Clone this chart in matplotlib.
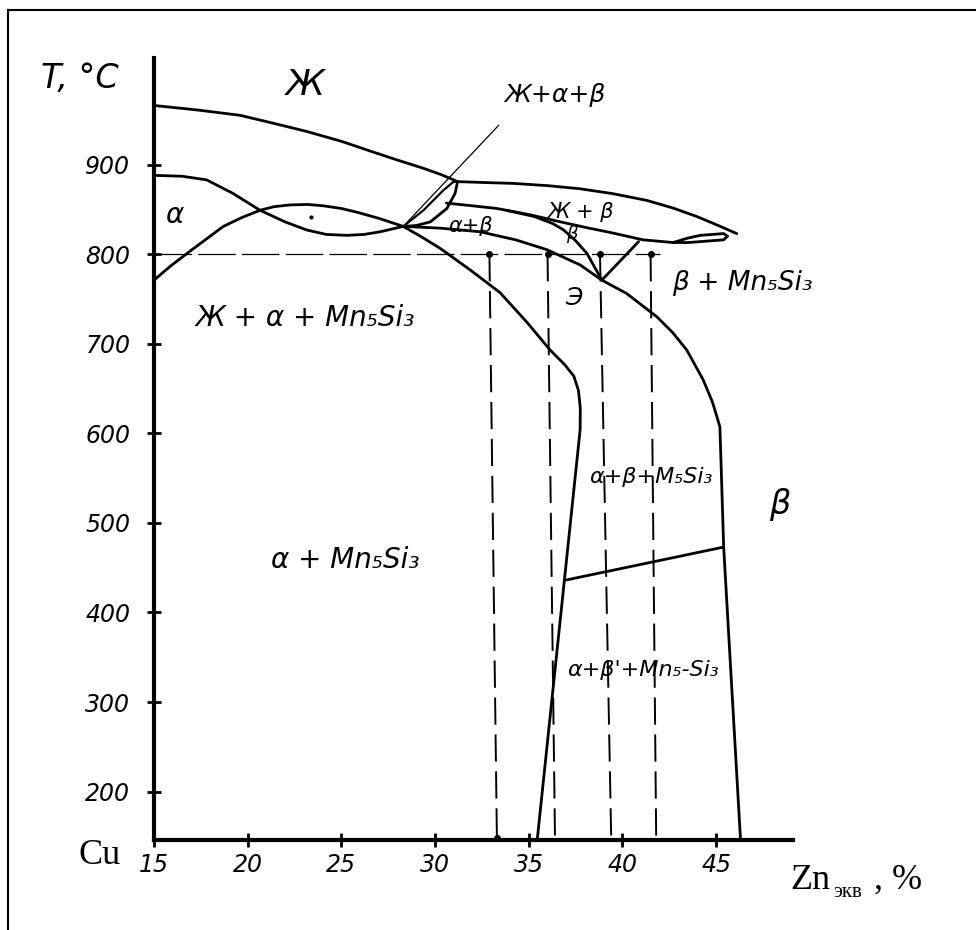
import numpy as np
import matplotlib.pyplot as plt

# phase boundary curves: (Zn_eq %, T degC)
liquidus = [(15, 966), (17.3, 961), (19.6, 955), (21.4, 946), (23.15, 937), (25, 926),
            (26.7, 914), (28, 905), (29.36, 896), (30.3, 889), (31.1, 882)]
liquidus_beta = [(31.16, 881), (32.6, 880), (34.18, 879), (36, 876.5), (37.74, 873),
                 (39.5, 867.5), (41.3, 860), (42.7, 851.5), (43.97, 842), (45, 833), (46.1, 823)]
alpha_top = [(15, 888), (16.5, 887), (17.8, 883), (19.2, 868), (20.66, 849), (22, 836),
             (23.15, 827), (24.2, 822), (25.3, 821), (26.2, 822), (27.07, 825), (28.3, 831)]
hump = [(15, 771), (15.9, 787), (16.9, 803), (17.8, 817), (18.7, 831), (19.7, 841),
        (20.66, 849), (21.4, 853), (22.26, 855), (23.2, 855.5), (24.04, 854), (25, 851),
        (25.8, 847), (27, 840), (28.3, 831), (29.3, 819), (30.27, 806.5), (31.9, 782),
        (33.47, 757), (34.9, 724), (36.14, 693), (36.9, 677), (37.4, 664), (37.65, 648),
        (37.75, 628), (37.74, 604), (35.45, 146)]
beta_left = [(28.3, 831), (30.3, 829), (32.4, 825), (34.3, 816), (35.97, 805), (37.74, 788),
             (38.9, 771), (40.23, 756), (41.84, 730), (42.7, 712), (43.43, 693), (44.3, 660),
             (44.8, 635), (45.04, 618.5), (45.2, 607), (45.4, 473), (46.3, 146)]
lens_left = [(28.3, 831), (29.38, 849), (30.45, 871.5), (30.98, 880.8), (31.16, 881)]
lens_right = [(28.3, 831), (29.0, 832), (29.74, 836), (30.63, 851), (31.07, 868), (31.2, 881)]
ab_upper = [(30.6, 857), (32, 854), (33.3, 851), (35.07, 844), (36.7, 836), (38, 830),
            (39.4, 824), (41.1, 816), (42.7, 813)]
ab_beta = [(33.8, 849), (35.3, 842), (36.3, 834), (36.86, 827), (37.5, 815), (38.1, 801),
           (38.5, 786), (38.9, 771)]
e_line = [(38.9, 771), (40.86, 814)]
lens2_top = [(42.7, 813), (43.5, 818), (44.15, 821), (45.4, 823), (45.6, 820)]
lens2_bot = [(42.7, 813), (43.5, 813), (44.15, 814), (45.4, 816), (45.6, 820)]
transform_line = [(36.94, 436), (45.4, 473)]
pointer = [(28.3, 831), (33.4, 944)]

iso_T = 800
iso_x = [15, 42.0]
verticals_top = [32.9, 36.0, 38.8, 41.5]
verticals_bot = [33.3, 36.4, 39.4, 41.8]

x_ticks = [15, 20, 25, 30, 35, 40, 45]
y_ticks = [200, 300, 400, 500, 600, 700, 800, 900]

labels = [
    ('Ж', 23.05, 989, 26),
    ('Ж+α+β', 36.4, 978, 18),
    ('α', 16.1, 844, 20),
    ('α+β', 31.9, 832, 15),
    ('Ж + β', 37.74, 847, 15),
    ('β', 37.3, 823, 13),
    ('Э', 37.4, 751, 18),
    ('β + Mn₅Si₃', 46.4, 768, 19),
    ('Ж + α + Mn₅Si₃', 23.06, 729, 20),
    ('α+β+M₅Si₃', 41.5, 551, 16),
    ('β', 48.4, 520, 24),
    ('α + Mn₅Si₃', 25.2, 459, 20),
    ("α+β'+Mn₅-Si₃", 41.1, 336, 16),
]

fig = plt.figure(figsize=(9.76, 9.30), dpi=100)
ax = fig.add_axes([154 / 976, 1 - 840 / 930, (793 - 154) / 976, (840 - 58) / 930])
ax.set_xlim(15, 49.1)
ax.set_ylim(146, 1019)

def draw(pts, lw=2.0, **kw):
    a = np.array(pts)
    ax.plot(a[:, 0], a[:, 1], color='black', lw=lw, solid_capstyle='round',
            solid_joinstyle='round', **kw)

for curve in [liquidus, liquidus_beta, alpha_top, hump, beta_left, lens_right,
              ab_upper, ab_beta, e_line, lens2_top, lens2_bot, transform_line]:
    draw(curve)
draw(lens_left, lw=1.6)
draw(pointer, lw=0.9)

ax.plot(iso_x, [iso_T, iso_T], color='black', lw=0.9, dashes=(30, 5))
for xt, xb in zip(verticals_top, verticals_bot):
    ax.plot([xt, xb], [iso_T, 146], color='black', lw=1.4, dashes=(14, 5))
    ax.plot([xt], [iso_T], 'o', color='black', ms=4)
ax.plot([verticals_bot[0]], [148], 'o', color='black', ms=4)
ax.plot([23.4], [842], 'o', color='black', ms=2)

for text, x, y, fs in labels:
    ax.text(x, y, text, fontsize=fs, style='italic', ha='center', va='center')

for s in ['top', 'right']:
    ax.spines[s].set_visible(False)
for s in ['left', 'bottom']:
    ax.spines[s].set_linewidth(3)
ax.set_xticks(x_ticks)
ax.set_yticks(y_ticks)
ax.set_xticklabels([str(v) for v in x_ticks], fontsize=17, style='italic')
ax.set_yticklabels([str(v) for v in y_ticks], fontsize=17, style='italic')
ax.tick_params(direction='inout', length=10, width=2)
ax.tick_params(axis='y', pad=12)
ax.tick_params(axis='x', pad=4)

fig.text(80 / 976, 1 - 78 / 930, 'T, °C', fontsize=24, style='italic', ha='center', va='center')
fig.text(100 / 976, 1 - 855 / 930, 'Cu', fontsize=26, family='Liberation Serif', ha='center', va='center')
fig.text(790 / 976, 1 - 880 / 930, 'Zn', fontsize=26, family='Liberation Serif', ha='left', va='center')
fig.text(833 / 976, 1 - 892 / 930, 'экв', fontsize=15, family='Liberation Serif', ha='left', va='center')
fig.text(874 / 976, 1 - 880 / 930, ', %', fontsize=26, family='Liberation Serif', ha='left', va='center')

# frame around the sheet
fig.add_artist(plt.Line2D([8 / 976, 8 / 976], [0, 1 - 10 / 930], color='black', lw=1.5))
fig.add_artist(plt.Line2D([8 / 976, 1], [1 - 10 / 930, 1 - 10 / 930], color='black', lw=1.5))

fig.savefig('out.png', dpi=100)
